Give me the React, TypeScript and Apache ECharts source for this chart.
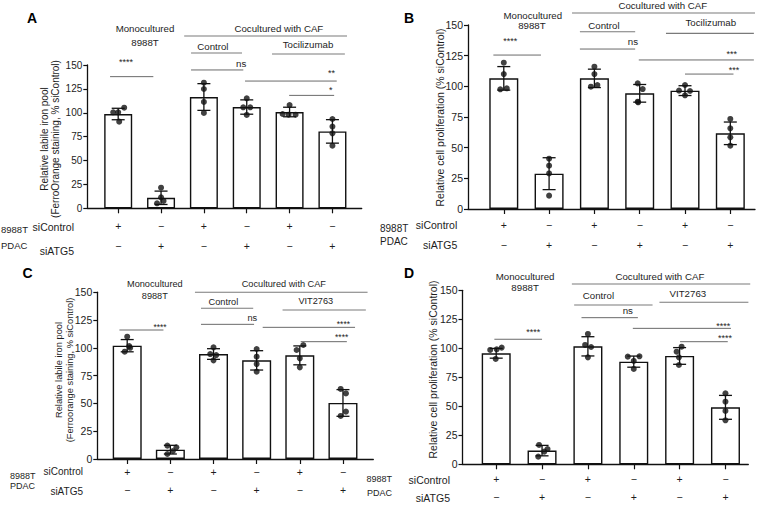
import React, { useEffect, useRef } from 'react';
import * as echarts from 'echarts';

const FONT = '"Liberation Sans", Arial, Helvetica, sans-serif';
const TEXT = '#1d1d1d';
const INK = '#111111';
const GREY = '#7a7a7a';

// ---------- shared categories ----------
const GROUPS = [0, 1, 2, 3, 4, 5];
const SICONTROL_ROW = ['+', '−', '+', '−', '+', '−'];
const SIATG5_ROW = ['−', '+', '−', '+', '−', '+'];

// ---------- Panel A: labile iron pool (FerroOrange), Tocilizumab ----------
const A_MEANS = [98.7, 11, 116.5, 106, 100.8, 80.5];
const A_SD = [6, 7, 14, 7.5, 5, 12.3];
const A_DOTS = [
  [105.3, 100.5, 100.5, 90.7],
  [21.6, 11.5, 5.2, 7.7],
  [131.5, 124.9, 111.3, 99.8],
  [115.1, 105.7, 105.7, 97.7],
  [108.1, 98.7, 98, 98],
  [93.5, 85.5, 78.5, 65.6],
];
const A_SIG_LABELS = ['****', 'ns', '**', '*'];

// ---------- Panel B: cell proliferation, Tocilizumab ----------
const B_MEANS = [106.5, 28.8, 106.5, 94.3, 96.5, 61.7];
const B_SD = [9.6, 13, 7.5, 7.2, 4, 9.2];
const B_DOTS = [
  [119.3, 110, 97.6, 98.4],
  [41, 35.3, 29, 10.9],
  [116, 110, 99.7, 101.1],
  [102.4, 97.8, 87.5, 87],
  [101.1, 96.5, 96.2, 92.7],
  [73.4, 65.8, 58.4, 51.6],
];
const B_SIG_LABELS = ['****', 'ns', '***', '***'];

// ---------- Panel C: labile iron pool (Ferroorange), VIT2763 ----------
const C_MEANS = [101.9, 8.4, 94.4, 88.7, 93.2, 50.4];
const C_SD = [5.5, 3.9, 4.8, 8.7, 8.5, 12];
const C_DOTS = [
  [110, 101.5, 100, 96.5],
  [12, 10.5, 7.2, 4.5],
  [100.4, 94.4, 93.5, 88.7],
  [98.9, 92, 85.4, 78.5],
  [102.5, 98, 90.5, 82.4],
  [63, 59, 42.6, 38.7],
];
const C_SIG_LABELS = ['****', 'ns', '****', '****'];

// ---------- Panel D: cell proliferation, VIT2763 ----------
const D_MEANS = [95.7, 11.8, 101.7, 88.5, 93.4, 49.1];
const D_SD = [4.2, 4.5, 8.3, 4.8, 7.2, 10.3];
const D_DOTS = [
  [98.6, 99.1, 100.6, 90.8],
  [16.7, 13.2, 10.9, 6.6],
  [112.4, 102.9, 101.1, 92.2],
  [92.8, 93.1, 89.1, 82.2],
  [101.4, 97.1, 92.2, 85.6],
  [61.2, 54, 46, 37.9],
];
const D_SIG_LABELS = ['****', 'ns', '****', '****'];

// ---------- layout (positions / styles) ----------
type Panel = {
  letter: string;
  letterPos: [number, number];
  grid: { left: number; top: number; width: number; height: number };
  xMin: number;
  xMax: number;
  barWidth: number;
  tickFs: number;
  headFs: number;
  labelMargin: number;
  rowGap: number;
  means: number[];
  sd: number[];
  dots: number[][];
  jitter: number[][]; // px
  headerLines: number[][]; // [x1, x2, y]
  sigLines: number[][];
  headerTexts: [string, number, number][];
  sigLabels: string[];
  sigPos: number[][]; // [x, y]
  yTitle: string;
  yTitlePos: [number, number];
  yTitleFs: number;
  yTitleLh: number;
  rowLabels: { text: string; x: number; y: number; align: string; fs: number }[];
};

const PANELS: Panel[] = [
  {
    letter: 'A',
    letterPos: [32, 18],
    grid: { left: 87.3, top: 65, width: 274.4, height: 143.3 },
    xMin: -0.721,
    xMax: 5.683,
    barWidth: 28,
    tickFs: 10,
    headFs: 9.7,
    labelMargin: 7.5,
    rowGap: 20,
    means: A_MEANS,
    sd: A_SD,
    dots: A_DOTS,
    jitter: [[6, -5, 0, 1], [0, 0, -4, 2.5], [0, 0, 0, 0], [0, -3.5, 3.5, 0], [0, -7, -1, 6], [0, 0, 0, 0]],
    headerLines: [[1.54, 5.34, 180.4], [1.7, 2.89, 162.6], [3.59, 5.29, 161.5]],
    sigLines: [[-0.19, 0.82, 137.8], [1.7, 2.92, 144.8], [2.96, 5.1, 133.2], [3.99, 5.04, 118.2]],
    headerTexts: [
      ['Monocultured', 0.625, 188.6],
      ['8988T', 0.625, 174],
      ['Cocultured with CAF', 3.75, 188.6],
      ['Control', 2.21, 169],
      ['Tocilizumab', 4.43, 171],
    ],
    sigLabels: A_SIG_LABELS,
    sigPos: [[0.18, 155], [2.87, 151.8], [4.98, 143.7], [4.96, 125.6]],
    yTitle: 'Relative labile iron pool\n(FerroOrange staining, % siControl)',
    yTitlePos: [50, 139],
    yTitleFs: 10,
    yTitleLh: 10.5,
    rowLabels: [
      { text: '8988T', x: 1, y: 229, align: 'left', fs: 9.5 },
      { text: 'PDAC', x: 1, y: 245, align: 'left', fs: 9.5 },
      { text: 'siControl', x: 74, y: 227, align: 'right', fs: 10.5 },
      { text: 'siATG5', x: 74, y: 251, align: 'right', fs: 10.5 },
    ],
  },
  {
    letter: 'B',
    letterPos: [409, 17.5],
    grid: { left: 468, top: 25, width: 287, height: 184 },
    xMin: -0.79,
    xMax: 5.545,
    barWidth: 29,
    tickFs: 10.5,
    headFs: 9.7,
    labelMargin: 5.5,
    rowGap: 20,
    means: B_MEANS,
    sd: B_SD,
    dots: B_DOTS,
    jitter: [[0, 0, -3.5, 3], [0, 0, 0, 0], [0, 0, -3.5, 3], [-2, 3, -2, -1.5], [0, -6, 5, 0], [0, 0, 0, 0]],
    headerLines: [[1.506, 5.545, 159.8], [1.68, 2.9, 144.5], [3.58, 5.52, 143.2]],
    sigLines: [[-0.23, 0.82, 125.5], [1.68, 2.9, 130.4], [2.98, 5.52, 121.5], [4.0, 5.07, 110]],
    headerTexts: [
      ['Monocultured', 0.64, 158.1],
      ['8988T', 0.62, 149.2],
      ['Cocultured with CAF', 3.51, 166.3],
      ['Control', 2.21, 150],
      ['Tocilizumab', 4.57, 151.9],
    ],
    sigLabels: B_SIG_LABELS,
    sigPos: [[0.14, 138.3], [2.85, 136.4], [5.03, 128.2], [5.08, 115.2]],
    yTitle: 'Relative cell proliferation (% siControl)',
    yTitlePos: [440, 117.5],
    yTitleFs: 10.5,
    yTitleLh: 12,
    rowLabels: [
      { text: '8988T', x: 380, y: 228.7, align: 'left', fs: 10 },
      { text: 'PDAC', x: 380, y: 241.3, align: 'left', fs: 10 },
      { text: 'siControl', x: 457.3, y: 225.3, align: 'right', fs: 10.5 },
      { text: 'siATG5', x: 457.3, y: 245.3, align: 'right', fs: 10.5 },
    ],
  },
  {
    letter: 'C',
    letterPos: [27.5, 273],
    grid: { left: 97.3, top: 292.2, width: 276, height: 166.8 },
    xMin: -0.693,
    xMax: 5.703,
    barWidth: 29,
    tickFs: 10.5,
    headFs: 9.2,
    labelMargin: 3.5,
    rowGap: 18.3,
    means: C_MEANS,
    sd: C_SD,
    dots: C_DOTS,
    jitter: [[0, 2, 3, -2.5], [-3, 6, 2.5, -3], [0, -3.3, 2.7, 0], [0, 0, 0, 0], [3.5, -3.2, 0, 0], [-2.3, 3, 3, -2.3]],
    headerLines: [[1.57, 5.57, 149.9], [1.71, 2.92, 135.5], [3.6, 5.53, 134]],
    sigLines: [[-0.18, 0.84, 116], [1.71, 2.94, 121.1], [3.14, 5.28, 118.4], [4.02, 5.09, 105.5]],
    headerTexts: [
      ['Monocultured', 0.64, 157.1],
      ['8988T', 0.64, 146.9],
      ['Cocultured with CAF', 3.63, 157.1],
      ['Control', 2.23, 140.9],
      ['VIT2763', 4.37, 142.1],
    ],
    sigLabels: C_SIG_LABELS,
    sigPos: [[0.76, 120.5], [2.9, 127.1], [5.01, 122.9], [4.97, 111.5]],
    yTitle: 'Relative labile iron pool\n(Ferroorange staining, % siControl)',
    yTitlePos: [64.5, 370],
    yTitleFs: 9.3,
    yTitleLh: 11,
    rowLabels: [
      { text: '8988T', x: 10, y: 475.7, align: 'left', fs: 9 },
      { text: 'PDAC', x: 10, y: 485.5, align: 'left', fs: 9 },
      { text: 'siControl', x: 83, y: 471, align: 'right', fs: 10 },
      { text: 'siATG5', x: 83, y: 491.7, align: 'right', fs: 10 },
    ],
  },
  {
    letter: 'D',
    letterPos: [409, 273],
    grid: { left: 462.5, top: 290.3, width: 285.8, height: 174 },
    xMin: -0.735,
    xMax: 5.498,
    barWidth: 29,
    tickFs: 10.5,
    headFs: 9.7,
    labelMargin: 6,
    rowGap: 18,
    means: D_MEANS,
    sd: D_SD,
    dots: D_DOTS,
    jitter: [[-6, 0.5, 5.5, -0.5], [-3, 5.5, 2.2, -3.8], [0, -2.8, 3.2, 0], [-6, 5.7, 0, 0], [2, -3, -0.7, -0.7], [0, 0, 0, 0]],
    headerLines: [[1.65, 5.54, 155.4], [1.7, 3.41, 137.3], [3.56, 5.5, 139.7]],
    sigLines: [[-0.04, 1.0, 107.8], [1.86, 3.09, 126.4], [2.98, 5.12, 117.2], [4.01, 5.05, 105.7]],
    headerTexts: [
      ['Monocultured', 0.63, 161.7],
      ['8988T', 0.63, 152.6],
      ['Cocultured with CAF', 3.57, 161.7],
      ['Control', 2.23, 145.3],
      ['VIT2763', 4.18, 147.4],
    ],
    sigLabels: D_SIG_LABELS,
    sigPos: [[0.81, 115.8], [2.87, 132.2], [4.95, 120.7], [4.99, 110.6]],
    yTitle: 'Relative cell proliferation (% siControl)',
    yTitlePos: [433, 369.5],
    yTitleFs: 10.5,
    yTitleLh: 12,
    rowLabels: [
      { text: '8988T', x: 392, y: 479, align: 'right', fs: 9 },
      { text: 'PDAC', x: 392, y: 493, align: 'right', fs: 9 },
      { text: 'siControl', x: 450, y: 480, align: 'right', fs: 10.5 },
      { text: 'siATG5', x: 450, y: 498, align: 'right', fs: 10.5 },
    ],
  },
];

function textStyle(text: string, fs: number, align: string, extra: any = {}) {
  return {
    text,
    fill: TEXT,
    fontSize: fs,
    fontFamily: FONT,
    align,
    textAlign: align,
    verticalAlign: 'middle',
    textVerticalAlign: 'middle',
    ...extra,
  };
}

function buildOption() {
  const grids: any[] = [];
  const xAxes: any[] = [];
  const yAxes: any[] = [];
  const series: any[] = [];
  const graphics: any[] = [];

  PANELS.forEach((p, i) => {
    const spacing = p.grid.width / (p.xMax - p.xMin);
    grids.push({ ...p.grid, containLabel: false, outerBoundsMode: 'none' });
    xAxes.push({
      type: 'value',
      gridIndex: i,
      min: p.xMin,
      max: p.xMax,
      axisLine: { show: true, onZero: false, lineStyle: { color: INK, width: 1.3 } },
      axisTick: { show: true, customValues: GROUPS, length: 5, lineStyle: { color: INK, width: 1.2 } },
      axisLabel: {
        show: true,
        customValues: GROUPS,
        margin: p.labelMargin,
        formatter: (v: number) => {
          const k = Math.round(v);
          return `{r|${SICONTROL_ROW[k]}}\n{r|${SIATG5_ROW[k]}}`;
        },
        rich: { r: { fontSize: 10.5, lineHeight: p.rowGap, color: TEXT, fontFamily: FONT, align: 'center' } },
      },
      splitLine: { show: false },
    });
    yAxes.push({
      type: 'value',
      gridIndex: i,
      min: 0,
      max: 150,
      interval: 25,
      axisLine: { show: true, onZero: false, lineStyle: { color: INK, width: 1.3 } },
      axisTick: { show: true, length: 4, lineStyle: { color: INK, width: 1.2 } },
      axisLabel: { fontSize: p.tickFs, color: TEXT, fontFamily: FONT, margin: 5 },
      splitLine: { show: false },
    });

    // bars
    series.push({
      type: 'bar',
      xAxisIndex: i,
      yAxisIndex: i,
      barWidth: p.barWidth,
      data: p.means.map((m, k) => [GROUPS[k], m]),
      itemStyle: { color: '#ffffff', borderColor: INK, borderWidth: 1.4 },
      z: 2,
      silent: true,
    });

    // SD error bars
    series.push({
      type: 'custom',
      xAxisIndex: i,
      yAxisIndex: i,
      z: 3,
      silent: true,
      clip: false,
      encode: { x: 0, y: 1 },
      data: p.means.map((m, k) => [GROUPS[k], m, p.sd[k]]),
      renderItem: (params: any, api: any) => {
        const x = api.value(0);
        const m = api.value(1);
        const s = api.value(2);
        const top = api.coord([x, m + s]);
        const bot = api.coord([x, m - s]);
        const cw = 6.5;
        const style = { stroke: INK, lineWidth: 1.3 };
        return {
          type: 'group',
          children: [
            { type: 'line', shape: { x1: top[0], y1: top[1], x2: bot[0], y2: bot[1] }, style },
            { type: 'line', shape: { x1: top[0] - cw, y1: top[1], x2: top[0] + cw, y2: top[1] }, style },
            { type: 'line', shape: { x1: bot[0] - cw, y1: bot[1], x2: bot[0] + cw, y2: bot[1] }, style },
          ],
        };
      },
    });

    // individual points
    const pts: number[][] = [];
    p.dots.forEach((arr, k) => {
      arr.forEach((v, j) => {
        pts.push([GROUPS[k] + (p.jitter[k][j] || 0) / spacing, v]);
      });
    });
    series.push({
      type: 'scatter',
      xAxisIndex: i,
      yAxisIndex: i,
      symbol: 'circle',
      symbolSize: 6,
      itemStyle: { color: INK },
      z: 4,
      silent: true,
      data: pts,
    });

    // bracket / header lines
    const lineSeries = (lines: number[][], color: string, width: number) => ({
      type: 'custom',
      xAxisIndex: i,
      yAxisIndex: i,
      z: 5,
      silent: true,
      clip: false,
      encode: { x: [0, 1], y: 2 },
      data: lines,
      renderItem: (params: any, api: any) => {
        const y = api.value(2);
        const a = api.coord([api.value(0), y]);
        const b = api.coord([api.value(1), y]);
        return {
          type: 'line',
          shape: { x1: a[0], y1: a[1], x2: b[0], y2: b[1] },
          style: { stroke: color, lineWidth: width },
        };
      },
    });
    series.push(lineSeries(p.headerLines, GREY, 1.1));
    series.push(lineSeries(p.sigLines, '#6a6a6a', 1));

    // header texts
    const textSeries = (labels: string[], pos: number[][], fs: number) => ({
      type: 'custom',
      xAxisIndex: i,
      yAxisIndex: i,
      z: 6,
      silent: true,
      clip: false,
      encode: { x: 0, y: 1 },
      data: pos,
      renderItem: (params: any, api: any) => {
        const label = labels[params.dataIndex];
        const c = api.coord([api.value(0), api.value(1)]);
        const star = label.charAt(0) === '*';
        return {
          type: 'text',
          x: c[0],
          y: c[1] + (star ? 2 : 0),
          style: textStyle(label, star ? fs - 0.7 : fs, 'center'),
        };
      },
    });
    series.push(
      textSeries(
        p.headerTexts.map((t) => t[0]),
        p.headerTexts.map((t) => [t[1], t[2]]),
        p.headFs
      )
    );
    series.push(textSeries(p.sigLabels, p.sigPos, p.headFs));

    // panel letter
    graphics.push({
      type: 'text',
      x: p.letterPos[0],
      y: p.letterPos[1],
      style: textStyle(p.letter, 14, 'center', { fontWeight: 'bold', fill: '#000' }),
    });
    // y title
    graphics.push({
      type: 'text',
      x: p.yTitlePos[0],
      y: p.yTitlePos[1],
      rotation: Math.PI / 2,
      style: textStyle(p.yTitle, p.yTitleFs, 'center', { lineHeight: p.yTitleLh }),
    });
    // row labels
    p.rowLabels.forEach((r) => {
      graphics.push({ type: 'text', x: r.x, y: r.y, style: textStyle(r.text, r.fs, r.align) });
    });
  });

  return {
    animation: false,
    backgroundColor: '#ffffff',
    textStyle: { fontFamily: FONT },
    grid: grids,
    xAxis: xAxes,
    yAxis: yAxes,
    series,
    graphic: { elements: graphics },
  };
}

export default function App() {
  const ref = useRef<HTMLDivElement>(null);
  useEffect(() => {
    if (!ref.current) return;
    const chart = echarts.init(ref.current, null, { renderer: 'svg' });
    chart.setOption(buildOption() as any);
    return () => chart.dispose();
  }, []);
  return (
    <div
      ref={ref}
      style={{ position: 'fixed', left: 0, top: 0, width: 763, height: 505, background: '#fff' }}
    />
  );
}
